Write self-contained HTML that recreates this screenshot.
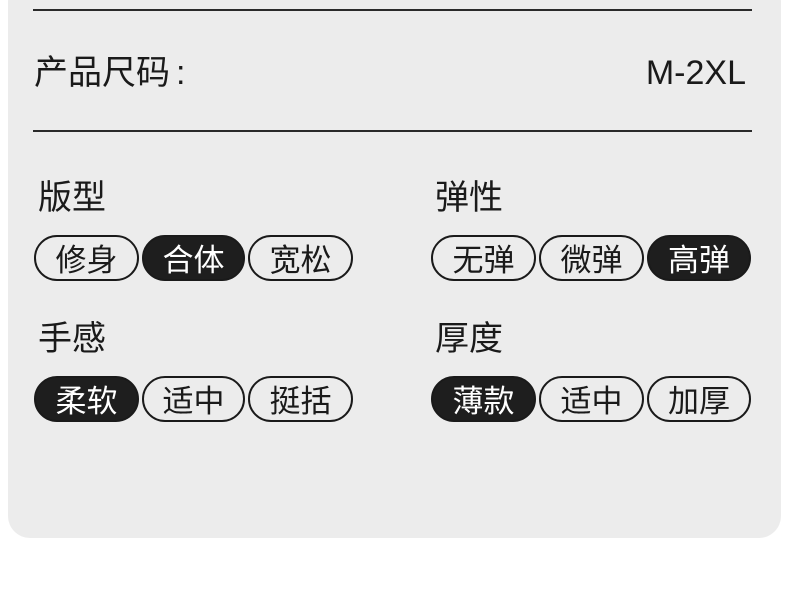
<!DOCTYPE html>
<html><head><meta charset="utf-8"><style>
*{margin:0;padding:0;box-sizing:border-box}
body{width:790px;height:601px;background:#fff;position:relative;overflow:hidden;font-family:"Liberation Sans","Noto Sans CJK SC",sans-serif;color:#1a1a1a}
.panel{position:absolute;left:8px;top:-20px;width:773px;height:558px;background:#ececec;border-radius:22px}
.line{position:absolute;left:33px;width:719px;height:2px;background:#2a2a2a}
.t{position:absolute;font-size:34px;line-height:40px;white-space:nowrap}
.p{position:absolute;height:46px;border:2px solid #1a1a1a;border-radius:23px;font-size:31px;line-height:47px;text-align:center;color:#1a1a1a;overflow:hidden}
.p.on{background:#1e1e1e;color:#fff}
</style></head><body>
<div class="panel"></div>
<div class="line" style="top:9px"></div>
<div class="line" style="top:130px"></div>
<div class="t" style="left:34px;top:53px">产品尺码<span style="margin-left:6px">:</span></div>
<div class="t" style="right:44px;top:53px">M-2XL</div>
<div class="t" style="left:38px;top:178px">版型</div>
<div class="t" style="left:435px;top:178px">弹性</div>
<div class="t" style="left:38px;top:319px">手感</div>
<div class="t" style="left:435px;top:319px">厚度</div>

<div class="p" style="left:34px;top:235px;width:105px">修身</div>
<div class="p on" style="left:142px;top:235px;width:103px">合体</div>
<div class="p" style="left:248px;top:235px;width:105px">宽松</div>
<div class="p" style="left:431px;top:235px;width:105px">无弹</div>
<div class="p" style="left:539px;top:235px;width:105px">微弹</div>
<div class="p on" style="left:647px;top:235px;width:104px">高弹</div>

<div class="p on" style="left:34px;top:376px;width:105px">柔软</div>
<div class="p" style="left:142px;top:376px;width:103px">适中</div>
<div class="p" style="left:248px;top:376px;width:105px">挺括</div>
<div class="p on" style="left:431px;top:376px;width:105px">薄款</div>
<div class="p" style="left:539px;top:376px;width:105px">适中</div>
<div class="p" style="left:647px;top:376px;width:104px">加厚</div>
</body></html>
